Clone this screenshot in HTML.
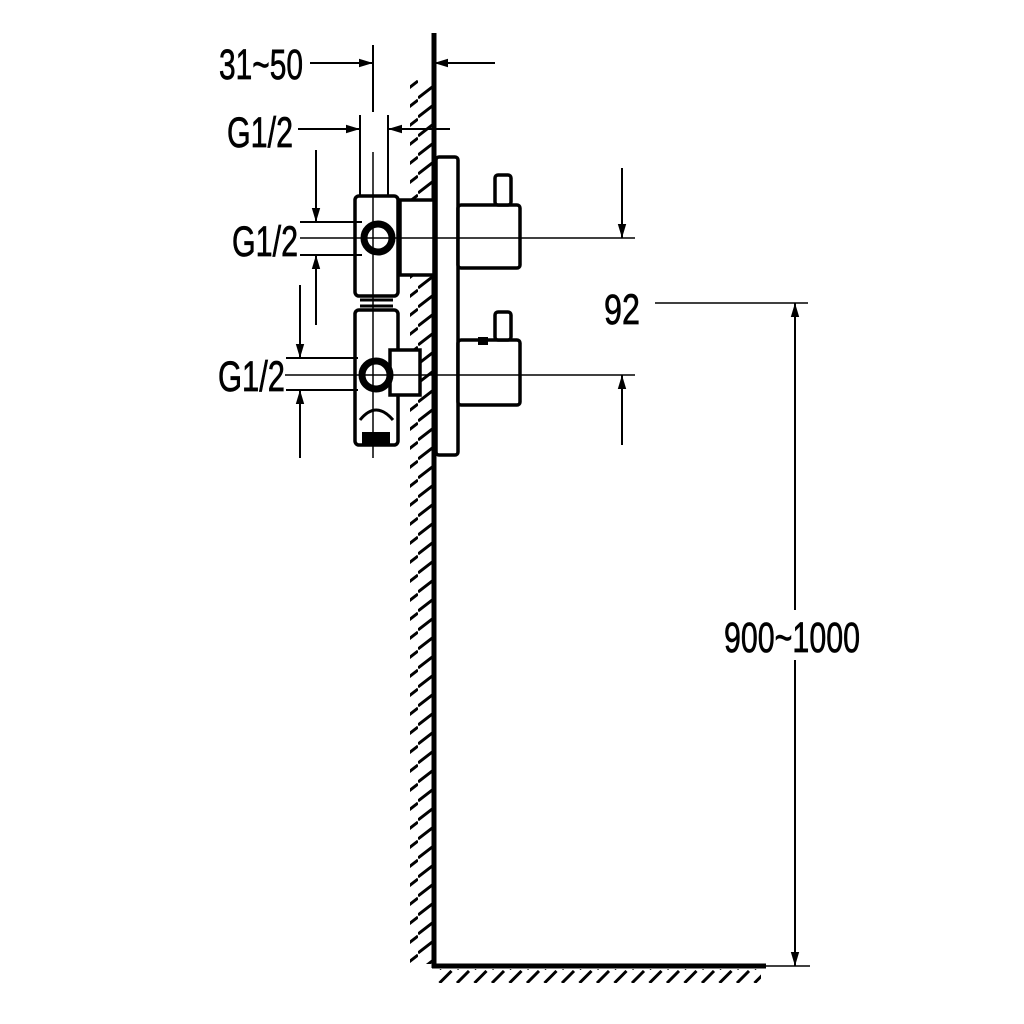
<!DOCTYPE html>
<html><head><style>html,body{margin:0;padding:0;background:#fff}svg{display:block}</style></head>
<body>
<svg width="1024" height="1024" viewBox="0 0 1024 1024" xmlns="http://www.w3.org/2000/svg">
<defs>
<pattern id="hw" patternUnits="userSpaceOnUse" x="0" y="80" width="22" height="19">
<line x1="0" y1="18" x2="22" y2="1" stroke="#000" stroke-width="3"/>
</pattern>
<pattern id="hf" patternUnits="userSpaceOnUse" x="0" y="970" width="17.5" height="14">
<line x1="2" y1="13" x2="14" y2="1" stroke="#000" stroke-width="3"/>
</pattern>
<marker id="a" viewBox="0 0 10 10" refX="10" refY="5" markerWidth="14" markerHeight="14" markerUnits="userSpaceOnUse" orient="auto">
<path d="M0,2 L10,5 L0,8 Z" fill="#000"/>
</marker>
</defs>
<g fill="#fff" stroke="#000">
<rect x="410" y="80" width="22" height="884" fill="url(#hw)" stroke="none"/>
<rect x="436" y="969" width="325" height="14" fill="url(#hf)" stroke="none"/>
<line x1="434" y1="33" x2="434" y2="968" stroke-width="5"/>
<line x1="432" y1="966" x2="766" y2="966" stroke-width="5"/>
<line x1="766" y1="966" x2="810" y2="966" stroke-width="1.5"/>
<rect x="436" y="157" width="22" height="298" rx="3" stroke-width="3.5"/>
<rect x="355" y="196" width="43" height="100" rx="4" stroke-width="3.5"/>
<rect x="355" y="310" width="43" height="135" rx="4" stroke-width="3.5"/>
<line x1="360" y1="300" x2="393" y2="300" stroke-width="3"/>
<line x1="360" y1="306" x2="393" y2="306" stroke-width="3"/>
<rect x="400" y="200" width="34" height="75" stroke-width="3.5"/>
<rect x="390" y="350" width="30" height="45" stroke-width="3.5"/>
<circle cx="378" cy="238" r="14" stroke-width="7"/>
<circle cx="376" cy="375" r="14" stroke-width="7"/>
<path d="M360 420 q16 -20 33 0" fill="none" stroke-width="3"/>
<rect x="362" y="432" width="28" height="12" fill="#000" stroke="none"/>
<rect x="458" y="205" width="62" height="63" rx="3" stroke-width="3.5"/>
<rect x="495" y="175" width="16" height="30" rx="3" stroke-width="3.5"/>
<rect x="458" y="340" width="62" height="65" rx="3" stroke-width="3.5"/>
<rect x="495" y="312" width="16" height="28" rx="3" stroke-width="3.5"/>
<rect x="478" y="337" width="10" height="8" fill="#000" stroke="none"/>
<line x1="373" y1="152" x2="373" y2="458" stroke-width="1.5"/>
<line x1="300" y1="238" x2="635" y2="238" stroke-width="1.5"/>
<line x1="285" y1="375" x2="635" y2="375" stroke-width="1.5"/>
<line x1="373" y1="45" x2="373" y2="112" stroke-width="2"/>
<line x1="310" y1="63" x2="373" y2="63" stroke-width="2" marker-end="url(#a)"/>
<line x1="495" y1="63" x2="434" y2="63" stroke-width="2" marker-end="url(#a)"/>
<line x1="360" y1="115" x2="360" y2="196" stroke-width="2"/>
<line x1="388" y1="115" x2="388" y2="196" stroke-width="2"/>
<line x1="298" y1="129" x2="360" y2="129" stroke-width="2" marker-end="url(#a)"/>
<line x1="450" y1="129" x2="388" y2="129" stroke-width="2" marker-end="url(#a)"/>
<line x1="300" y1="222" x2="362" y2="222" stroke-width="2"/>
<line x1="300" y1="255" x2="362" y2="255" stroke-width="2"/>
<line x1="316" y1="150" x2="316" y2="222" stroke-width="2" marker-end="url(#a)"/>
<line x1="316" y1="325" x2="316" y2="255" stroke-width="2" marker-end="url(#a)"/>
<line x1="286" y1="358" x2="358" y2="358" stroke-width="2"/>
<line x1="286" y1="390" x2="358" y2="390" stroke-width="2"/>
<line x1="300" y1="285" x2="300" y2="358" stroke-width="2" marker-end="url(#a)"/>
<line x1="300" y1="458" x2="300" y2="390" stroke-width="2" marker-end="url(#a)"/>
<line x1="622" y1="168" x2="622" y2="238" stroke-width="2" marker-end="url(#a)"/>
<line x1="622" y1="445" x2="622" y2="375" stroke-width="2" marker-end="url(#a)"/>
<line x1="655" y1="303" x2="808" y2="303" stroke-width="1.5"/>
<line x1="795" y1="610" x2="795" y2="303" stroke-width="2" marker-end="url(#a)"/>
<line x1="795" y1="660" x2="795" y2="966" stroke-width="2" marker-end="url(#a)"/>
</g>
<g font-family="Liberation Sans Narrow, Liberation Sans, sans-serif" font-size="43" fill="#000" stroke="#000" stroke-width="0.7">
<text x="219" y="79" textLength="84" lengthAdjust="spacingAndGlyphs">31~50</text>
<text x="227" y="147" textLength="66" lengthAdjust="spacingAndGlyphs">G1/2</text>
<text x="232" y="256" textLength="66" lengthAdjust="spacingAndGlyphs">G1/2</text>
<text x="218" y="391" textLength="67" lengthAdjust="spacingAndGlyphs">G1/2</text>
<text x="604" y="324" textLength="36" lengthAdjust="spacingAndGlyphs">92</text>
<text x="724" y="652" textLength="136" lengthAdjust="spacingAndGlyphs">900~1000</text>
</g>
</svg>
</body></html>
